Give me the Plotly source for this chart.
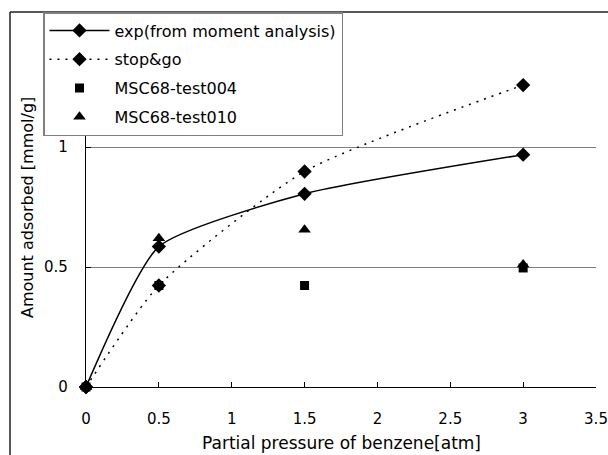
import plotly.graph_objects as go

x_vals = [0, 0.5, 1.5, 3]
exp_vals = [0, 0.585, 0.805, 0.968]
stopgo_vals = [0, 0.423, 0.898, 1.258]
test004_vals = [0, 0.423, 0.423, 0.496]
test010_vals = [0, 0.62, 0.655, 0.51]

names = ["exp(from moment analysis)", "stop&go", "MSC68-test004", "MSC68-test010"]
x_title = "Partial pressure of benzene[atm]"
y_title = "Amount adsorbed [mmol/g]"

FONT = "DejaVu Sans"

fig = go.Figure()
fig.add_trace(go.Scatter(
    x=x_vals, y=exp_vals, name=names[0], legendgroup="a",
    mode="lines+markers", line=dict(color="black", width=1.5, shape="spline", smoothing=0.55),
    marker=dict(symbol="diamond", size=11, color="black"), cliponaxis=False))
fig.add_trace(go.Scatter(
    x=x_vals, y=stopgo_vals, name=names[1], legendgroup="b",
    mode="lines+markers", line=dict(color="black", width=1.5, shape="spline", smoothing=0.6, dash="2px,6px"),
    marker=dict(symbol="diamond", size=11, color="black"), cliponaxis=False))
fig.add_trace(go.Scatter(
    x=x_vals, y=test004_vals, name=names[2], legendgroup="c",
    mode="markers", marker=dict(symbol="square", size=9, color="black"), cliponaxis=False))
fig.add_trace(go.Scatter(
    x=x_vals, y=test010_vals, name=names[3], legendgroup="d",
    mode="markers", marker=dict(symbol="triangle-up", size=11, color="black"), cliponaxis=False))

W, H = 608, 455
ML, MT = 10, 12          # outer chart frame starts here
bw, bh = W - ML, H - MT  # margin box size

def px2paper_x(px):
    return (px - ML) / bw

def px2paper_y(py):
    return (H - py) / bh

fig.update_layout(
    width=W, height=H,
    margin=dict(l=ML, r=0, t=MT, b=0, autoexpand=False),
    paper_bgcolor="white", plot_bgcolor="white",
    font=dict(family=FONT, size=15, color="black"),
    showlegend=True,
    legend=dict(
        x=px2paper_x(43), y=1, xanchor="left", yanchor="top",
        bgcolor="white", bordercolor="#808080", borderwidth=1.5,
        font=dict(family=FONT, size=16, color="black"),
        tracegroupgap=5, traceorder="grouped", itemwidth=60,
    ),
    xaxis=dict(
        domain=[px2paper_x(86), px2paper_x(596)],
        range=[0, 3.5], dtick=0.5, tick0=0, showgrid=False, zeroline=False,
        showline=True, linecolor="black", linewidth=1.2,
        ticks="inside", ticklen=5, tickcolor="black",
        ticklabelstandoff=18,
    ),
    yaxis=dict(
        domain=[px2paper_y(387), px2paper_y(27)],
        range=[0, 1.5], dtick=0.5, tick0=0, showgrid=True, gridcolor="#808080", gridwidth=1.2,
        zeroline=False, showline=True, linecolor="black", linewidth=1.2,
        ticks="inside", ticklen=5, tickcolor="black",
        ticklabelstandoff=14,
    ),
    annotations=[
        dict(text=x_title, xref="paper", yref="paper", x=px2paper_x(341), y=px2paper_y(443),
             xanchor="center", yanchor="middle", showarrow=False, font=dict(size=17)),
        dict(text=y_title, xref="paper", yref="paper", x=px2paper_x(27), y=px2paper_y(208),
             xanchor="center", yanchor="middle", textangle=-90, showarrow=False, font=dict(size=16)),
    ],
)

fig.add_shape(type="line", xref="paper", yref="paper",
              x0=0, x1=1, y0=1, y1=1,
              line=dict(color="#202020", width=1.5), layer="below")
fig.add_shape(type="line", xref="paper", yref="paper",
              x0=0, x1=0, y0=0, y1=1,
              line=dict(color="#202020", width=1.5), layer="below")

fig.write_html("out.html")
